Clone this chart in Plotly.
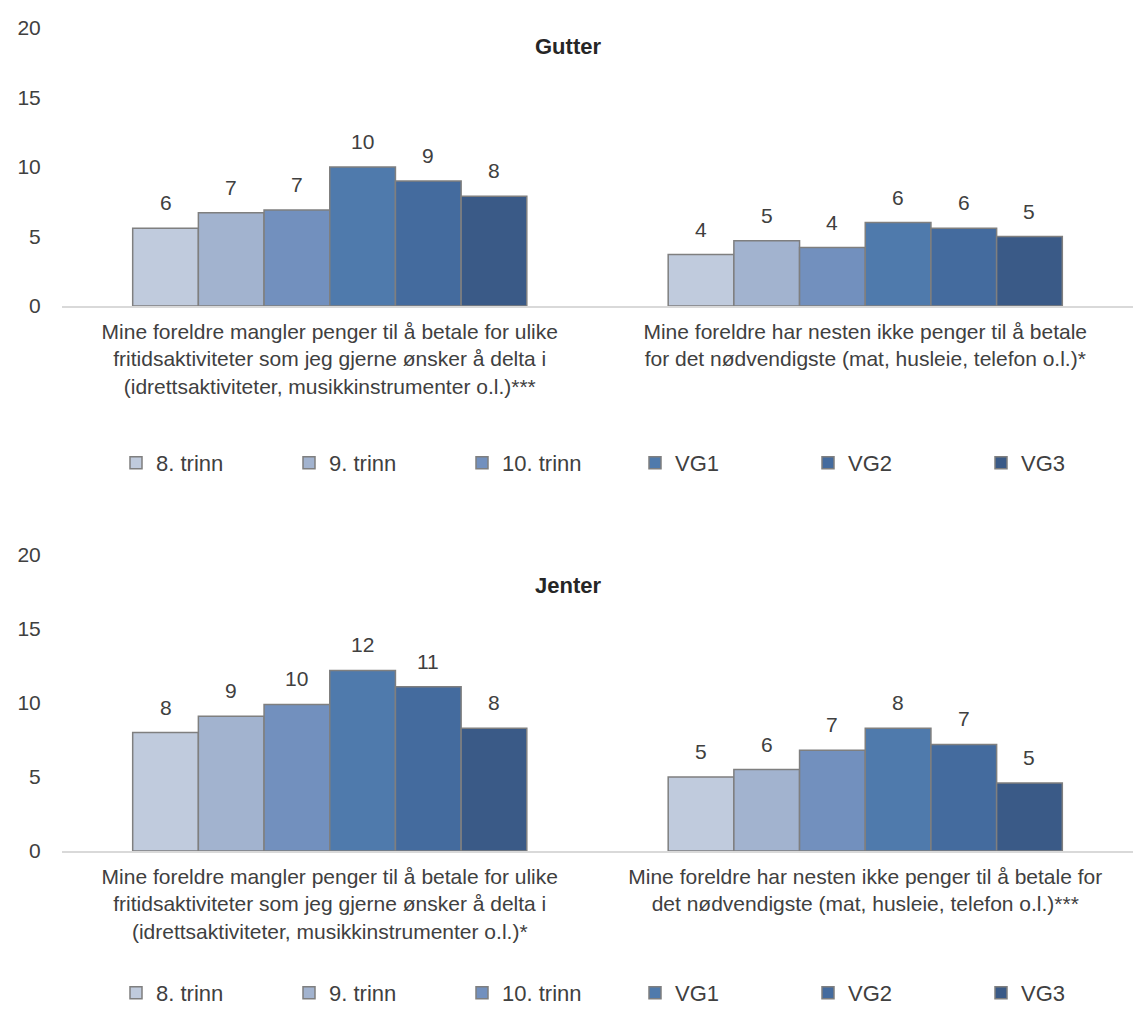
import plotly.graph_objects as go

# data
series = ['8. trinn', '9. trinn', '10. trinn', 'VG1', 'VG2', 'VG3']
colors = ['#C0CBDD', '#A2B3CF', '#7290BE', '#4F7AAC', '#446B9E', '#3A5A87']

cats_gutter = [
    'Mine foreldre mangler penger til å betale for ulike<br>fritidsaktiviteter som jeg gjerne ønsker å delta i<br>(idrettsaktiviteter, musikkinstrumenter o.l.)***',
    'Mine foreldre har nesten ikke penger til å betale<br>for det nødvendigste (mat, husleie, telefon o.l.)*',
]
cats_jenter = [
    'Mine foreldre mangler penger til å betale for ulike<br>fritidsaktiviteter som jeg gjerne ønsker å delta i<br>(idrettsaktiviteter, musikkinstrumenter o.l.)*',
    'Mine foreldre har nesten ikke penger til å betale for<br>det nødvendigste (mat, husleie, telefon o.l.)***',
]
# values per series: [fritid, nødvendigste]
gutter = [[5.6, 3.7], [6.7, 4.7], [6.9, 4.2], [10.0, 6.0], [9.0, 5.6], [7.9, 5.0]]
jenter = [[8.0, 5.0], [9.1, 5.5], [9.9, 6.8], [12.2, 8.3], [11.1, 7.2], [8.3, 4.6]]

# page has an 8px body margin, so the figure is made smaller and positions are shifted
OFF = 8
W, H = 1142 - OFF, 1009 - OFF
FONT = 'Arial, Liberation Sans, sans-serif'
TXT = '#404040'


def px(v):
    return (v - OFF) / W


def py(v):
    return 1 - (v - OFF) / H


xdom = [px(62), px(1133)]
bargap = 0.264
barw = (xdom[1] - xdom[0]) * W / 2 * (1 - bargap) / len(series)

fig = go.Figure()
panels = [
    ('x', 'y', cats_gutter, gutter, 'legend'),
    ('x2', 'y2', cats_jenter, jenter, 'legend2'),
]
annotations = []
for xa, ya, cats, vals, leg in panels:
    for i, name in enumerate(series):
        fig.add_trace(go.Bar(
            x=cats, y=vals[i], name=name, xaxis=xa, yaxis=ya, legend=leg,
            marker=dict(color=colors[i], line=dict(color='#7F7F7F', width=1.5)),
            hoverinfo='y+name',
        ))
        for c, v in zip(cats, vals[i]):
            annotations.append(dict(
                x=c, y=v, xref=xa, yref=ya, text=f'{v:.0f}', showarrow=False,
                xshift=(i - 2.5) * barw, yshift=12, yanchor='bottom',
                font=dict(size=21, color=TXT, family=FONT),
            ))

for title, ty in [('Gutter', 46), ('Jenter', 585)]:
    annotations.append(dict(text=f'<b>{title}</b>', x=px(568), y=py(ty), xref='paper', yref='paper',
                            xanchor='center', yanchor='middle', showarrow=False,
                            font=dict(size=22, color='#262626', family=FONT)))

yax = dict(range=[0, 20], dtick=5, showgrid=False, zeroline=False, showline=False,
           ticks='outside', ticklen=16, tickcolor='white',
           tickfont=dict(size=21, color=TXT, family=FONT), fixedrange=True)
xax = dict(showgrid=False, showline=True, linecolor='#D9D9D9', linewidth=1.5,
           ticks='outside', ticklen=6, tickcolor='white',
           tickfont=dict(size=21, color=TXT, family=FONT), domain=xdom, fixedrange=True)
leg = dict(orientation='h', xanchor='left', x=px(116), yanchor='middle',
           entrywidth=128, entrywidthmode='pixels', bgcolor='rgba(0,0,0,0)',
           font=dict(size=22, color=TXT, family=FONT), traceorder='normal')

fig.update_layout(
    width=W, height=H,
    margin=dict(l=0, r=0, t=0, b=0, autoexpand=False),
    paper_bgcolor='white', plot_bgcolor='white',
    barmode='group', bargap=bargap, bargroupgap=0,
    font=dict(family=FONT, color=TXT),
    xaxis=dict(xax, anchor='y'),
    yaxis=dict(yax, domain=[py(306), py(28)], anchor='x'),
    xaxis2=dict(xax, anchor='y2'),
    yaxis2=dict(yax, domain=[py(851), py(555)], anchor='x2'),
    legend=dict(leg, y=py(463)),
    legend2=dict(leg, y=py(993)),
    annotations=annotations,
    showlegend=True,
)

fig.write_html('out.html')
